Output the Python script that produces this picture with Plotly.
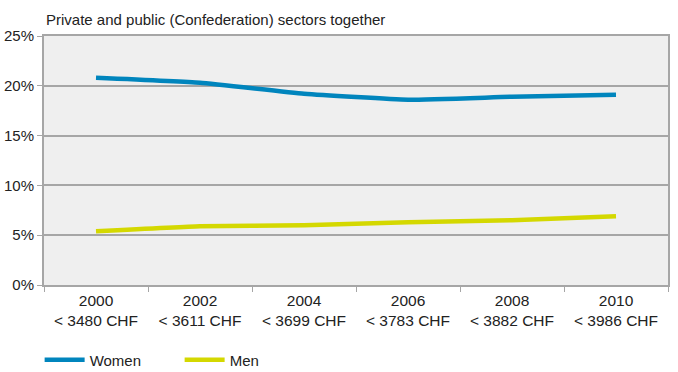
import plotly.graph_objects as go

years = ["2000", "2002", "2004", "2006", "2008", "2010"]
thresholds = ["< 3480 CHF", "< 3611 CHF", "< 3699 CHF", "< 3783 CHF", "< 3882 CHF", "< 3986 CHF"]
women = [20.8, 20.3, 19.2, 18.6, 18.9, 19.1]
men = [5.4, 5.9, 6.0, 6.3, 6.5, 6.9]
y_ticks = [0, 5, 10, 15, 20, 25]
y_labels = ["0%", "5%", "10%", "15%", "20%", "25%"]
title_text = "Private and public (Confederation) sectors together"

cats = [f"{y}<br>{t}" for y, t in zip(years, thresholds)]
FONT = "Liberation Sans, Arial, sans-serif"

fig = go.Figure()
fig.add_trace(go.Scatter(x=cats, y=women, name="Women", mode="lines",
                         line=dict(color="#0085BD", width=4.5, shape="spline", smoothing=0.4)))
fig.add_trace(go.Scatter(x=cats, y=men, name="Men", mode="lines",
                         line=dict(color="#D4D800", width=4.5, shape="spline", smoothing=0.4)))

fig.update_layout(
    width=678, height=372,
    margin=dict(l=44, r=10, t=36, b=87, autoexpand=False),
    paper_bgcolor="white",
    plot_bgcolor="#EFEFEF",
    font=dict(family=FONT, size=15, color="#222222"),
    showlegend=True,
    legend=dict(orientation="h", x=-0.007, y=-0.235, xanchor="left", yanchor="top",
                font=dict(size=15), itemwidth=40, entrywidth=85, entrywidthmode="pixels",
                tracegroupgap=0, bgcolor="rgba(0,0,0,0)"),
    annotations=[dict(text=title_text, xref="paper", yref="paper", x=0, y=1,
                      xanchor="left", yanchor="bottom", yshift=6, showarrow=False,
                      font=dict(size=15, family=FONT, color="#222222"))],
)
fig.update_xaxes(type="category", range=[-0.5, 5.5], showgrid=False, showline=True,
                 linecolor="#A6A6A6", linewidth=2, mirror=True, ticks="outside",
                 tickson="boundaries", ticklen=5, tickcolor="#A6A6A6", tickwidth=1,
                 tickfont=dict(size=15.5), automargin=False, fixedrange=True)
fig.update_yaxes(range=[0, 25], tickvals=y_ticks, ticktext=y_labels, showgrid=True,
                 gridcolor="#A6A6A6", gridwidth=2, showline=True, linecolor="#A6A6A6",
                 linewidth=2, mirror=True, ticks="outside", ticklen=5, tickcolor="#A6A6A6",
                 zeroline=False, tickfont=dict(size=15), automargin=False, fixedrange=True)

fig.write_html("out.html")
